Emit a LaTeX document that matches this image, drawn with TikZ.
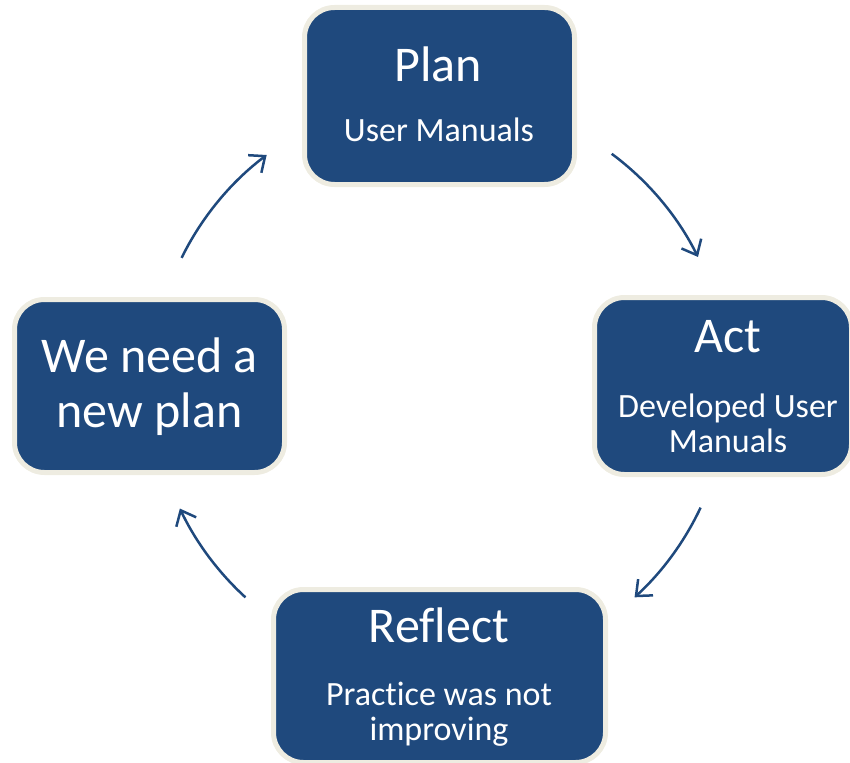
\documentclass[tikz,border=0pt]{standalone}
\usepackage{fontspec}
\setmainfont{Carlito}[Ligatures=NoCommon]
\usetikzlibrary{arrows.meta}
\definecolor{boxblue}{HTML}{1F497D}
\definecolor{boxrim}{HTML}{EEECE1}

\begin{document}
\begin{tikzpicture}[x=1pt, y=1pt,
  stage/.style={draw=boxrim, line width=5pt, fill=boxblue, rounded corners=30pt, inner sep=0pt},
  head/.style={text=white, anchor=base, inner sep=0pt, font=\fontsize{50}{58}\selectfont},
  note/.style={text=white, anchor=base, inner sep=0pt, font=\fontsize{34}{38}\selectfont},
  turn/.style={draw=boxblue, line width=2.5pt, -{Straight Barb[length=13pt,width=22pt]}}]
\useasboundingbox (0,0) rectangle (850,-762);

% the four boxes
\node[stage, minimum width=270pt, minimum height=177pt] (plan) at (439.5,-96) {};
\node[stage, minimum width=257pt, minimum height=177pt] (act) at (723,-386) {};
\node[stage, minimum width=332pt, minimum height=173pt] (reflect) at (439.5,-676) {};
\node[stage, minimum width=270pt, minimum height=173pt] (newplan) at (149.5,-386) {};

% texts
\node[head] (plantitle) at (438,-82) {Plan};
\node[note] (plannote) at (439,-142) {User Manuals};

\node[head] (acttitle) at (728,-352) {Act};
\node[note] (actnote) at (728,-417) {Developed User};
\node[note] (actnotetwo) at (728,-452) {Manuals};

\node[head] (reflecttitle) at (439,-642) {Reflect};
\node[note] (reflectnote) at (439,-705) {Practice was not};
\node[note] (reflectnotetwo) at (439,-740) {improving};

\node[head] (newplanone) at (149.5,-372) {We need a};
\node[head] (newplantwo) at (149.5,-427) {new plan};

% arrows round the circle
\coordinate (hub) at (440,-385);
\coordinate (ptoa) at ([shift={(53.4:288)}]hub);
\coordinate (ator) at ([shift={(-25.2:288)}]hub);
\coordinate (rton) at ([shift={(-132.5:288)}]hub);
\coordinate (ntop) at ([shift={(153.8:288)}]hub);

\draw[turn] (ptoa) arc[start angle=53.4, end angle=26.4, radius=288];
\draw[turn] (ator) arc[start angle=-25.2, end angle=-47.5, radius=288];
\draw[turn] (rton) arc[start angle=-132.5, end angle=-154.6, radius=288];
\draw[turn] (ntop) arc[start angle=153.8, end angle=127, radius=288];
\end{tikzpicture}
\end{document}
